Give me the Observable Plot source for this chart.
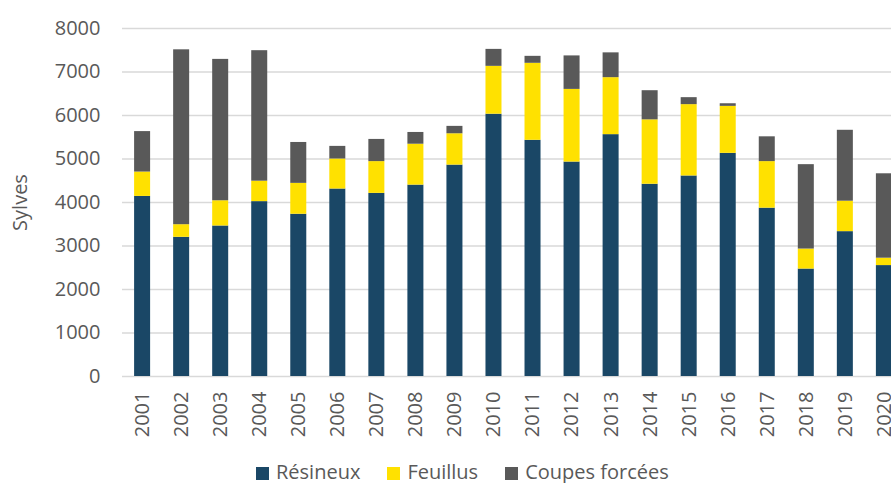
<!DOCTYPE html>
<html>
<head>
<meta charset="utf-8">
<script src="https://cdn.jsdelivr.net/npm/d3@7"></script>
<script src="https://cdn.jsdelivr.net/npm/@observablehq/plot@0.6"></script>
<style>
  html, body { margin: 0; padding: 0; background: white; overflow: hidden; }
  #wrap { position: relative; width: 891px; height: 483px; overflow: hidden; font-family: "Open Sans", sans-serif; }
  #legend { position: absolute; left: 256px; top: 462px; height: 20px; display: flex; align-items: center; font-size: 20px; line-height: 20px; color: #595959; white-space: nowrap; }
  #legend .sw { display: inline-block; width: 13px; height: 13px; margin-right: 7px; margin-top: 3px; }
  #legend .it { display: flex; align-items: center; margin-right: 27px; }
</style>
</head>
<body>
<div id="wrap"><div id="chart"></div><div id="legend"></div></div>
<script>
const years = ["2001","2002","2003","2004","2005","2006","2007","2008","2009","2010","2011","2012","2013","2014","2015","2016","2017","2018","2019","2020"];
const series = ["Résineux", "Feuillus", "Coupes forcées"];
const resineux = [4140,3200,3460,4020,3730,4310,4210,4400,4860,6030,5430,4930,5560,4420,4610,5130,3870,2470,3330,2550];
const feuillus = [560,290,580,470,710,690,730,940,720,1100,1770,1670,1310,1480,1640,1080,1070,460,700,170];
const coupes = [930,4020,3250,3000,940,290,510,270,170,390,160,770,570,670,160,60,570,1940,1630,1940];
const colors = ["#1a4766", "#ffe100", "#595959"];
const yTicks = [0,1000,2000,3000,4000,5000,6000,7000,8000];

const values = [resineux, feuillus, coupes];
const table = series.flatMap((s, si) => years.map((y, i) => ({year: y, series: s, value: values[si][i]})));

const chart = Plot.plot({
  width: 904,
  height: 455,
  marginLeft: 122,
  marginRight: 0,
  marginTop: 28,
  marginBottom: 79,
  style: {fontFamily: "'Open Sans', sans-serif", fontSize: "20px", color: "#595959", maxWidth: "none", overflow: "visible"},
  x: {domain: years, paddingInner: 0.59, paddingOuter: 0.31, round: false, label: null},
  y: {domain: [0, 8000], label: null},
  color: {domain: series, range: colors},
  marks: [
    Plot.gridY(yTicks, {stroke: "#d9d9d9", strokeOpacity: 1, strokeWidth: 1.5}),
    Plot.barY(table, {x: "year", y: "value", fill: "series", order: series}),
    Plot.axisY(yTicks, {tickSize: 0, tickPadding: 22, tickFormat: d => String(d), fill: "#595959", label: "Sylves", labelAnchor: "center", labelOffset: 110, labelArrow: "none"}),
    Plot.axisX({tickSize: 0, tickPadding: 15, tickRotate: -90, fill: "#595959", label: null})
  ]
});
document.getElementById("chart").appendChild(chart);

const legend = document.getElementById("legend");
series.forEach((s, i) => {
  const it = document.createElement("div");
  it.className = "it";
  const sw = document.createElement("span");
  sw.className = "sw";
  sw.style.background = colors[i];
  const tx = document.createElement("span");
  tx.textContent = s;
  it.appendChild(sw);
  it.appendChild(tx);
  legend.appendChild(it);
});
</script>
</body>
</html>
